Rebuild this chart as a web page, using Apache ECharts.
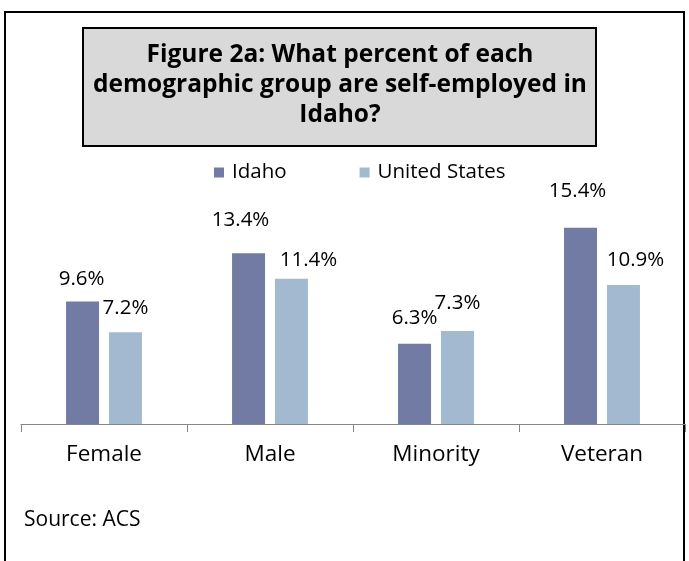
<!DOCTYPE html>
<html>
<head>
<meta charset="utf-8">
<script src="https://cdn.jsdelivr.net/npm/echarts@6/dist/echarts.min.js"></script>
<style>
  html, body { margin: 0; padding: 0; background: #fff; }
  #chart { width: 689px; height: 561px; }
</style>
</head>
<body>
<div id="chart"></div>
<script>
// Figure 2a - share of self-employed by demographic group
const categories = ['Female', 'Male', 'Minority', 'Veteran'];
const idaho = [9.6, 13.4, 6.3, 15.4];
const unitedStates = [7.2, 11.4, 7.3, 10.9];

// label nudges so they sit like in the original (style only)
const idahoLabelShift = [[-1, 0], [-8, -10], [0, -3], [-3, -14]];
const usLabelShift = [[0, -2], [17, 4], [0, -5], [12, -2]];

const FONT = '"Open Sans", sans-serif';

function withShift(values, shifts) {
  return values.map((v, i) => ({ value: v, label: { offset: shifts[i] } }));
}

const chart = echarts.init(document.getElementById('chart'));

chart.setOption({
  animation: false,
  backgroundColor: '#fff',
  textStyle: { fontFamily: FONT },
  graphic: [
    {
      type: 'rect',
      shape: { x: 5, y: 12, width: 679, height: 600 },
      style: { fill: null, stroke: '#000', lineWidth: 2 },
      silent: true,
    },
    {
      type: 'rect',
      shape: { x: 83, y: 28, width: 513, height: 118 },
      style: { fill: '#d9d9d9', stroke: '#000', lineWidth: 2 },
      silent: true,
    },
    {
      type: 'text',
      x: 340,
      y: 85,
      style: {
        text: 'Figure 2a: What percent of each\ndemographic group are self-employed in\nIdaho?',
        font: 'bold 24.5px ' + FONT,
        fill: '#000',
        align: 'center',
        verticalAlign: 'middle',
        lineHeight: 30,
      },
    },
    {
      type: 'text',
      x: 24,
      y: 520,
      style: {
        text: 'Source: ACS',
        font: '21px ' + FONT,
        fill: '#000',
        verticalAlign: 'middle',
      },
    },
  ],
  legend: {
    top: 157,
    left: 209,
    icon: 'rect',
    itemWidth: 10,
    itemHeight: 10,
    itemGap: 73,
    textStyle: { fontSize: 20.5, color: '#000', fontFamily: FONT, padding: [0, 0, 0, 3] },
    data: ['Idaho', 'United States'],
  },
  grid: { left: 21, right: 4, top: 169, bottom: 137 },
  xAxis: {
    type: 'category',
    data: categories,
    axisLine: { lineStyle: { color: '#868686', width: 1 } },
    axisTick: { show: true, length: 8, lineStyle: { color: '#868686' } },
    axisLabel: { color: '#000', fontSize: 22.5, margin: 19, fontFamily: FONT },
  },
  yAxis: {
    type: 'value',
    min: 0,
    max: 20,
    show: false,
    splitLine: { show: false },
  },
  series: [
    {
      name: 'Idaho',
      type: 'bar',
      barWidth: 33,
      barGap: '30%',
      itemStyle: { color: '#717ba3' },
      label: {
        show: true,
        position: 'top',
        distance: 12,
        fontSize: 20.5,
        color: '#000',
        fontFamily: FONT,
        formatter: (p) => p.value.toFixed(1) + '%',
      },
      data: withShift(idaho, idahoLabelShift),
    },
    {
      name: 'United States',
      type: 'bar',
      barWidth: 33,
      itemStyle: { color: '#a2b9d0' },
      label: {
        show: true,
        position: 'top',
        distance: 12,
        fontSize: 20.5,
        color: '#000',
        fontFamily: FONT,
        formatter: (p) => p.value.toFixed(1) + '%',
      },
      data: withShift(unitedStates, usLabelShift),
    },
  ],
});
</script>
</body>
</html>
